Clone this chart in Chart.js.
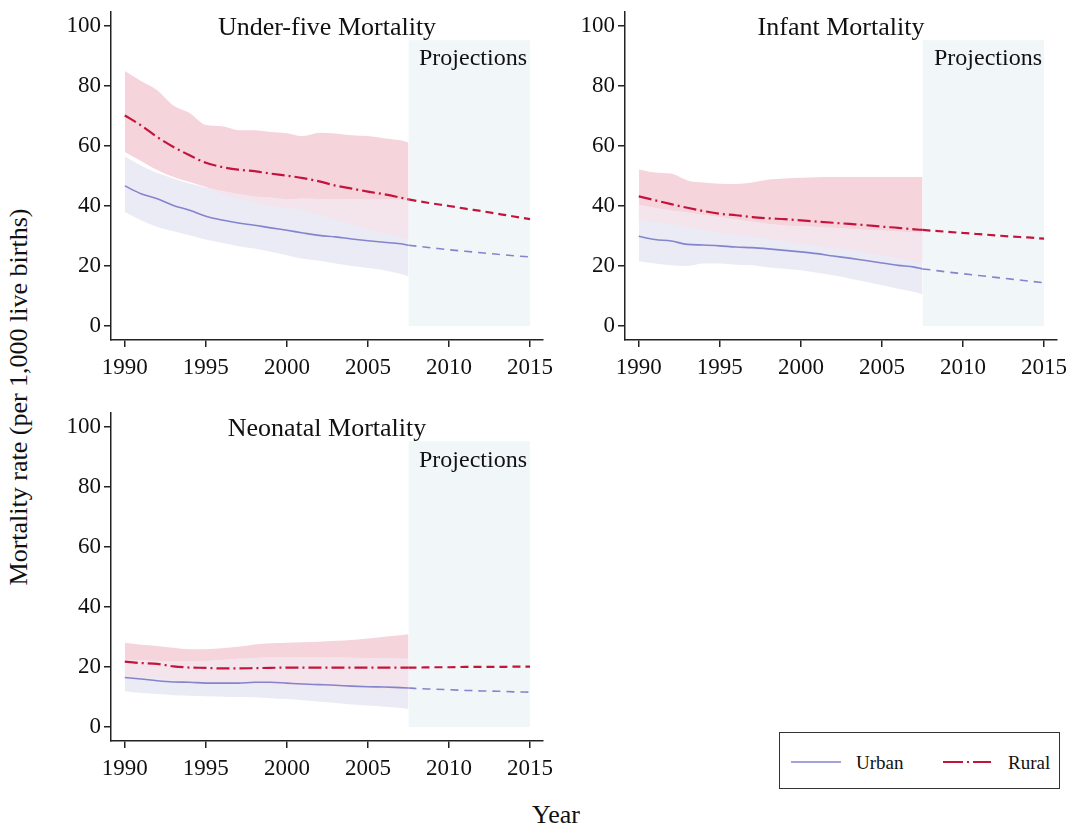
<!DOCTYPE html>
<html>
<head>
<meta charset="utf-8">
<script src="https://cdn.jsdelivr.net/npm/chart.js@4.4.1/dist/chart.umd.min.js"></script>
<style>
  html, body { margin: 0; padding: 0; background: #fff; }
  body { width: 1068px; height: 826px; position: relative; overflow: hidden; font-family: 'Liberation Serif', 'DejaVu Serif', serif; color: #111; }
  canvas { position: absolute; }
  .txt { position: absolute; white-space: nowrap; line-height: 1; z-index: 5; }
  .ctr { transform: translate(-50%, -50%); }
  .rgt { transform: translate(-100%, -50%); }
</style>
</head>
<body>
<canvas id="c1" width="507" height="378" style="left:51px;top:2px"></canvas>
<canvas id="c2" width="502" height="378" style="left:565px;top:2px"></canvas>
<canvas id="c3" width="507" height="378" style="left:51px;top:403px"></canvas>

<div class="txt ctr" style="left:327px;top:27px;font-size:26px">Under-five Mortality</div>
<div class="txt ctr" style="left:841px;top:27px;font-size:26px">Infant Mortality</div>
<div class="txt ctr" style="left:327px;top:428px;font-size:26px">Neonatal Mortality</div>
<div class="txt rgt" style="left:527px;top:57px;font-size:24px">Projections</div>
<div class="txt rgt" style="left:1042px;top:57px;font-size:24px">Projections</div>
<div class="txt rgt" style="left:527px;top:459px;font-size:24px">Projections</div>
<div class="txt ctr" style="left:19px;top:397px;font-size:26px;transform:translate(-50%,-50%) rotate(-90deg)">Mortality rate (per 1,000 live births)</div>
<div class="txt ctr" style="left:556px;top:815px;font-size:26px">Year</div>

<div style="position:absolute;left:779px;top:732px;width:279px;height:55px;border:1.5px solid #333;z-index:5">
  <svg width="279" height="55" style="position:absolute;left:0;top:0">
    <line x1="11" y1="29" x2="61" y2="29" stroke="#8484cc" stroke-width="1.6"/>
    <line x1="163" y1="29" x2="211" y2="29" stroke="#c4143c" stroke-width="2" stroke-dasharray="20,4,2,4,20"/>
  </svg>
  <div class="txt" style="left:76px;top:20px;font-size:19px">Urban</div>
  <div class="txt" style="left:228px;top:20px;font-size:19px">Rural</div>
</div>

<script>
// ---------- data ----------
const years = [1990,1991,1992,1993,1994,1995,1996,1997,1998,1999,2000,2001,2002,2003,2004,2005,2006,2007,2007.5];
const projYears = [2007.5,2008,2009,2010,2011,2012,2013,2014,2015];
const xTicks = [1990,1995,2000,2005,2010,2015];
const yTicks = [0,20,40,60,80,100];
const projectionSpan = [2007.5, 2015];
const projectionTop = 95.3;

// Under-five mortality
const u5RuralMid = [70.2,66.9,63.0,59.7,56.9,54.4,53.0,52.1,51.6,50.8,50.1,49.3,48.2,46.8,45.8,44.8,43.9,42.8,42.2];
const u5RuralHi  = [85.0,81.7,78.6,73.5,71.0,67.0,66.6,65.3,65.3,64.7,64.3,63.3,64.4,64.2,63.6,63.3,62.6,61.9,61.2];
const u5RuralLo  = [58.0,55.0,52.0,49.7,48.0,46.3,44.0,42.5,41.2,40.0,39.3,38.7,37.0,35.3,33.8,32.3,31.0,29.5,28.7];
const u5UrbanMid = [46.7,44.1,42.4,40.2,38.6,36.6,35.3,34.3,33.6,32.7,31.9,31.0,30.2,29.7,29.0,28.4,27.9,27.4,26.9];
const u5UrbanHi  = [56.6,53.5,51.0,49.2,47.5,46.2,45.0,44.0,43.2,42.8,42.2,42.5,42.3,42.2,42.3,42.2,42.2,42.1,42.0];
const u5UrbanLo  = [38.0,35.2,33.0,31.6,30.2,28.8,27.7,26.6,25.8,24.7,23.6,22.4,21.7,20.8,20.0,19.3,18.6,17.4,16.6];
const u5RuralProj = [42.2,41.7,40.8,40.0,39.1,38.3,37.4,36.5,35.6];
const u5UrbanProj = [26.9,26.6,26.0,25.4,24.9,24.4,23.9,23.4,23.0];

// Infant mortality
const inRuralMid = [43.2,41.9,40.6,39.4,38.3,37.4,36.9,36.3,35.9,35.6,35.2,34.8,34.4,34.0,33.6,33.1,32.7,32.2,32.0];
const inRuralHi  = [52.2,51.2,50.8,48.5,47.8,47.4,47.3,47.8,48.8,49.2,49.4,49.6,49.7,49.7,49.7,49.7,49.7,49.7,49.7];
const inRuralLo  = [35.3,34.5,34.0,33.0,32.0,31.0,30.3,29.7,29.0,28.2,27.3,26.6,26.0,25.2,24.3,23.4,22.5,21.5,21.0];
const inUrbanMid = [29.9,28.8,28.3,27.2,27.0,26.7,26.3,26.1,25.7,25.2,24.7,24.1,23.3,22.6,21.8,21.0,20.2,19.6,19.0];
const inUrbanHi  = [40.3,39.3,38.5,37.8,37.0,36.3,35.5,34.7,34.0,33.5,33.2,33.0,32.7,32.4,32.1,31.8,31.5,31.2,31.0];
const inUrbanLo  = [21.6,20.8,20.2,20.0,20.8,20.8,20.4,20.2,19.5,19.1,18.6,17.7,16.9,15.8,14.7,13.6,12.4,11.3,10.6];
const inRuralProj = [32.0,31.8,31.4,31.0,30.6,30.2,29.8,29.5,29.1];
const inUrbanProj = [19.0,18.7,18.0,17.4,16.8,16.2,15.6,15.0,14.4];

// Neonatal mortality
const nnRuralMid = [21.8,21.3,21.0,20.2,19.8,19.7,19.5,19.5,19.6,19.7,19.8,19.8,19.8,19.8,19.8,19.8,19.8,19.8,19.8];
const nnRuralHi  = [28.1,27.4,27.0,26.4,25.9,25.9,26.2,26.7,27.5,27.9,28.1,28.2,28.4,28.7,29.0,29.5,30.1,30.6,30.9];
const nnRuralLo  = [16.9,16.6,16.3,15.6,15.2,15.0,14.7,14.4,14.2,14.1,13.9,13.8,13.6,13.4,13.2,12.9,12.6,12.4,12.2];
const nnUrbanMid = [16.5,16.0,15.4,15.0,14.9,14.6,14.6,14.6,14.9,14.9,14.6,14.3,14.1,13.9,13.6,13.4,13.3,13.1,13.0];
const nnUrbanHi  = [22.5,22.2,22.0,21.8,21.8,22.0,22.3,22.7,23.0,23.2,23.3,23.3,23.3,23.2,23.1,23.0,22.9,22.8,22.7];
const nnUrbanLo  = [11.9,11.3,11.0,10.6,10.4,10.2,10.1,10.0,9.9,9.6,9.3,8.9,8.4,8.0,7.5,7.1,6.7,6.3,6.0];
const nnRuralProj = [19.8,19.8,19.9,19.9,20.0,20.0,20.0,20.1,20.1];
const nnUrbanProj = [13.0,12.8,12.6,12.4,12.2,12.0,11.9,11.7,11.6];

// ---------- styles ----------
const RED = '#c4143c', BLUE = '#8484cc';
const PINK = '#f6d4dc', LAV = '#ebebf6', OVER = '#f4e5ed', PROJ = '#f1f6f9';
const AXIS = '#222';
const FONT = "'Liberation Serif', 'DejaVu Serif', serif";

const pts = (xs, ys) => xs.map((x, i) => ({x, y: ys[i]}));

function band(upper, lower, color, order) {
  const base = {borderColor: 'rgba(0,0,0,0)', borderWidth: 0, pointRadius: 0, order, cubicInterpolationMode: 'monotone'};
  return [
    Object.assign({data: pts(years, upper), fill: '+1', backgroundColor: color}, base),
    Object.assign({data: pts(years, lower), fill: false}, base)
  ];
}

function makeChart(id, d, padRight) {
  const ovHi = d.urbanHi.map((v, i) => Math.min(v, d.ruralHi[i]));
  const ovLo = d.ruralLo.map((v, i) => Math.min(Math.max(v, d.urbanLo[i]), ovHi[i]));
  const line = (xs, ys, color, width, dash, order) => ({
    data: pts(xs, ys), borderColor: color, borderWidth: width, borderDash: dash,
    pointRadius: 0, fill: false, order, cubicInterpolationMode: 'monotone'
  });
  const datasets = [
    line(years, d.ruralMid, RED, 2.2, [13, 4, 2, 4], 1),
    line(projYears, d.ruralProj, RED, 2.2, [8, 5], 1),
    line(years, d.urbanMid, BLUE, 1.6, [], 2),
    line(projYears, d.urbanProj, BLUE, 1.6, [8, 6], 2),
    ...band(ovHi, ovLo, OVER, 3),
    ...band(d.urbanHi, d.urbanLo, LAV, 4),
    ...band(d.ruralHi, d.ruralLo, PINK, 5),
    {data: projectionSpan.map(x => ({x, y: projectionTop})), fill: {value: 0}, backgroundColor: PROJ,
     borderColor: 'rgba(0,0,0,0)', borderWidth: 0, pointRadius: 0, order: 6}
  ];
  const common = {
    grid: {display: true, drawOnChartArea: false, drawTicks: true, tickLength: 7, color: AXIS, lineWidth: 1.5},
    border: {display: true, color: AXIS, width: 1.5}
  };
  return new Chart(document.getElementById(id), {
    type: 'line',
    data: {datasets},
    options: {
      responsive: false, animation: false, events: [],
      layout: {padding: {top: 10, right: padRight, left: 0, bottom: 0}},
      plugins: {legend: {display: false}, tooltip: {enabled: false}, title: {display: false}},
      scales: {
        x: Object.assign({
          type: 'linear', min: 1989.15, max: 2015.8,
          afterBuildTicks: s => { s.ticks = xTicks.map(v => ({value: v})); },
          afterFit: s => { s.height = 40; s.paddingLeft = 0; s.paddingRight = 0; },
          ticks: {font: {family: FONT, size: 23}, color: '#111', padding: 7, maxRotation: 0, callback: v => String(v)}
        }, common),
        y: Object.assign({
          type: 'linear', min: -4.7, max: 104.7,
          afterBuildTicks: s => { s.ticks = yTicks.map(v => ({value: v})); },
          afterFit: s => { s.width = 60; s.paddingTop = 0; s.paddingBottom = 0; },
          ticks: {font: {family: FONT, size: 23}, color: '#111', padding: 3, callback: v => String(v)}
        }, common)
      }
    }
  });
}

makeChart('c1', {ruralMid: u5RuralMid, ruralHi: u5RuralHi, ruralLo: u5RuralLo, urbanMid: u5UrbanMid, urbanHi: u5UrbanHi, urbanLo: u5UrbanLo, ruralProj: u5RuralProj, urbanProj: u5UrbanProj}, 15);
makeChart('c2', {ruralMid: inRuralMid, ruralHi: inRuralHi, ruralLo: inRuralLo, urbanMid: inUrbanMid, urbanHi: inUrbanHi, urbanLo: inUrbanLo, ruralProj: inRuralProj, urbanProj: inUrbanProj}, 10);
makeChart('c3', {ruralMid: nnRuralMid, ruralHi: nnRuralHi, ruralLo: nnRuralLo, urbanMid: nnUrbanMid, urbanHi: nnUrbanHi, urbanLo: nnUrbanLo, ruralProj: nnRuralProj, urbanProj: nnUrbanProj}, 15);
</script>
</body>
</html>
